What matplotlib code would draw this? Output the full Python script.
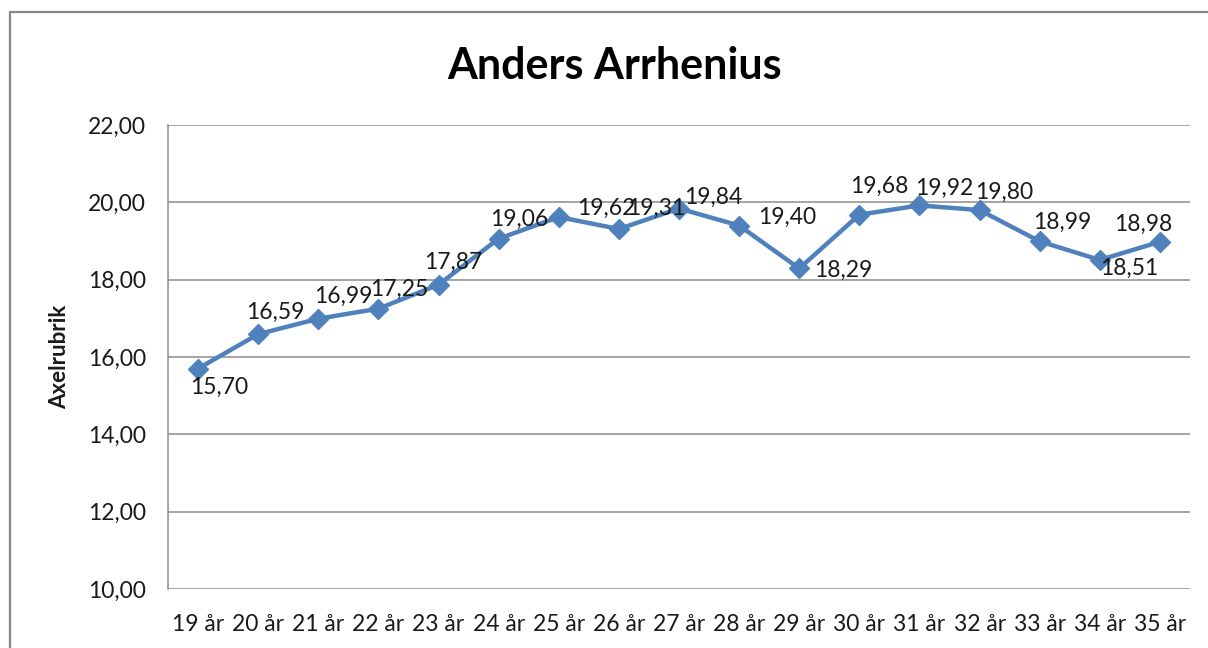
import matplotlib
matplotlib.use("Agg")
import matplotlib.pyplot as plt
from matplotlib.patches import Rectangle

categories = ["19 år", "20 år", "21 år", "22 år", "23 år", "24 år", "25 år", "26 år", "27 år",
              "28 år", "29 år", "30 år", "31 år", "32 år", "33 år", "34 år", "35 år"]
values = [15.70, 16.59, 16.99, 17.25, 17.87, 19.06, 19.62, 19.31, 19.84,
          19.40, 18.29, 19.68, 19.92, 19.80, 18.99, 18.51, 18.98]
yticks = [10, 12, 14, 16, 18, 20, 22]
title = "Anders Arrhenius"
ylabel = "Axelrubrik"

# label offsets in pixels (dx, dy downward)
label_offsets = [(21, 19), (17, -22), (25, -22), (21, -19), (15, -22), (21, -19), (48, -9),
                 (37, -21), (34, -11), (48, -8), (44, 2), (20, -28), (25, -17), (25, -18),
                 (23, -19), (29, 8), (-17, -17)]

plt.rcParams['font.family'] = ['Lato', 'DejaVu Sans']

fig = plt.figure(figsize=(12.08, 6.48), dpi=100)
W, H = 1208, 648
ax = fig.add_axes([168 / W, 1 - 589 / H, (1190 - 168) / W, (589 - 125) / H])

# figure border
fig.patches.append(Rectangle((10 / W, -0.1), 1.2, 1 - 12 / H + 0.1, transform=fig.transFigure,
                             fill=False, edgecolor="#878787", linewidth=1.6))

x = list(range(len(categories)))
ax.plot(x, values, color="#4F81BD", linewidth=3.2, marker="D", markersize=10,
        markerfacecolor="#4F81BD", markeredgecolor="#4F81BD", zorder=3, clip_on=False)

for i, v in enumerate(values):
    dx, dy = label_offsets[i]
    ax.annotate(f"{v:.2f}".replace(".", ","), (i, v), xytext=(dx, -dy), textcoords="offset pixels",
                ha="center", va="center", fontsize=16.5, color="#1a1a1a", zorder=4)

ax.set_xlim(-0.5, len(categories) - 0.5)
ax.set_ylim(10, 22)
ax.set_yticks(yticks)
ax.set_yticklabels([f"{t:.2f}".replace(".", ",") for t in yticks])
ax.set_xticks(x)
ax.set_xticklabels(categories)
ax.tick_params(axis="both", length=0, labelsize=16.5, colors="#1a1a1a")
ax.tick_params(axis="y", pad=16)
ax.tick_params(axis="x", pad=18)

ax.grid(axis="y", color="#8c8c8c", linewidth=1.1)
ax.set_axisbelow(True)
for s in ["top", "right", "bottom"]:
    ax.spines[s].set_visible(False)
ax.spines["left"].set_color("#8c8c8c")
ax.spines["left"].set_linewidth(1.1)

ax.set_ylabel(ylabel, fontsize=16, fontweight="bold", color="#1a1a1a")
ax.yaxis.set_label_coords((70 - 168) / (1190 - 168), 0.5)

fig.text(615 / W, 1 - 66 / H, title, ha="center", va="center", fontsize=31, fontweight="bold")

fig.savefig("out.png", dpi=100)
